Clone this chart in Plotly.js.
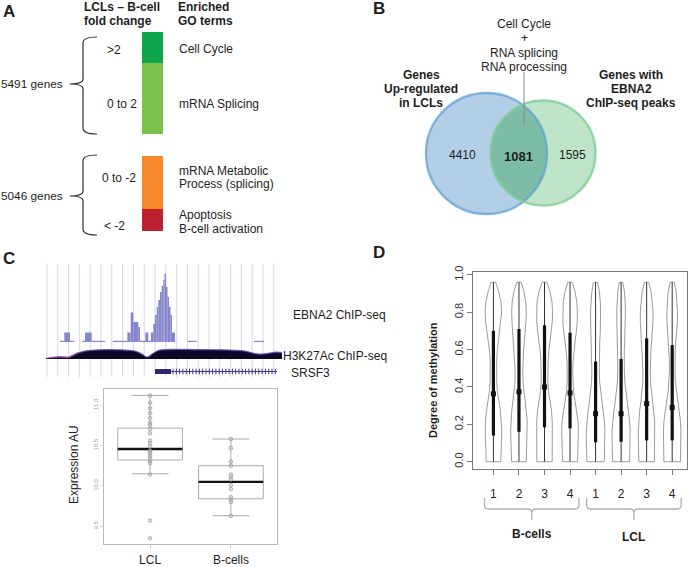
<!DOCTYPE html>
<html><head><meta charset="utf-8">
<script src="https://cdn.plot.ly/plotly-3.0.1.min.js"></script>
<style>html,body{margin:0;padding:0;background:#fff}#chart{width:694px;height:567px}</style>
</head><body><div id="chart"></div>
<script>
// ================= DATA =================
// Panel A : fold-change bins and enriched GO terms
const foldBins = ['>2', '0 to 2', '0 to -2', '< -2'];
const foldGroup = [0, 0, 1, 1];
const foldBinSize = [31, 71, 53, 22];           // relative bar lengths
const geneGroups = ['5491 genes', '5046 genes'];
const goTermLines = [['Cell Cycle'], ['mRNA Splicing'], ['mRNA Metabolic', 'Process (splicing)'], ['Apoptosis', 'B-cell activation']];

// Panel B : Venn
const vennSetA = ['Genes', 'Up-regulated', 'in LCLs'];
const vennSetB = ['Genes with', 'EBNA2', 'ChIP-seq peaks'];
const vennCounts = ['4410', '1081', '1595'];
const vennOverlapTerms = ['Cell Cycle', '+', 'RNA splicing', 'RNA processing'];

// Panel C : genome tracks (position in 100 bp bins)
const ebnaStart  = [14, 18.3, 24, 36.3, 39, 45.7, 66.7, 81.3, 84.7, 87.3, 89, 92.3, 94, 99.3, 102.3, 105, 107.3, 109, 110.7, 112.3, 114, 115.7, 117.3, 118.5, 120, 121.5, 123, 124.5, 126, 141.7, 208];
const ebnaEnd    = [18.3, 24, 28.3, 39, 45.7, 59, 81.3, 84.7, 87.3, 89, 92.3, 94, 99.3, 102.3, 105, 107.3, 109, 110.7, 112.3, 114, 115.7, 117.3, 118.5, 120, 121.5, 123, 124.5, 126, 129, 150.7, 218];
const ebnaSignal = [1.2, 9.5, 1.2, 1.2, 9.5, 1.2, 1.2, 9.5, 29.5, 20, 20, 15, 1.2, 9.5, 1.2, 9.5, 18, 27, 35, 42, 50, 56, 62, 68, 55, 45, 35, 27, 9.5, 1.2, 1.2];
const h3Pos    = [0, 4, 14, 22, 26, 32, 39, 49, 64, 79, 89, 96, 101, 106, 112, 119, 154, 184, 199, 209, 216, 224, 230, 236];
const h3Signal = [0, 1, 2, 1.5, 3, 6, 8, 9, 9.5, 9, 8, 5, 2, 5, 8.5, 9.5, 9.5, 9, 8, 5.5, 5, 6, 7, 6.5];
const geneName = 'SRSF3';
const geneStart = 109, geneExonEnd = 125, geneEnd = 231;

// Panel C : expression box plot
const boxGroups = ['LCL', 'B-cells'];
const boxQ1 = [10.32, 9.84];
const boxMedian = [10.457, 10.05];
const boxQ3 = [10.716, 10.25];
const boxLower = [10.15, 9.63];
const boxUpper = [11.12, 10.58];
const lclExpr = [11.12, 11.03, 10.96, 10.90, 10.84, 10.78, 10.75, 10.70, 10.65, 10.56, 10.53, 10.49, 10.44, 10.42, 10.40, 10.37, 10.34, 10.31, 10.28, 10.14, 9.57, 9.35];
const bcellExpr = [10.58, 10.47, 10.30, 10.25, 10.14, 10.11, 10.08, 10.01, 9.96, 9.86, 9.83, 9.80, 9.63];

// Panel D : methylation violins
const violinTicks = ['1', '2', '3', '4', '1', '2', '3', '4'];
const violinGroupNames = ['B-cells', 'LCL'];
const violinLevels = [0, 0.055, 0.11, 0.165, 0.215, 0.27, 0.325, 0.375, 0.43, 0.485, 0.535, 0.59, 0.645, 0.695, 0.75, 0.805, 0.855, 0.91, 0.96];
const violinDensity = [
  [7.3, 7.3, 8.0, 8.3, 8.0, 7.0, 5.5, 4.0, 3.3, 3.0, 3.2, 3.8, 5.0, 6.5, 7.8, 8.3, 7.5, 5.3, 2.3],
  [7.3, 7.5, 8.0, 8.3, 8.2, 7.3, 6.0, 4.7, 4.0, 3.8, 4.0, 4.5, 5.3, 6.3, 7.0, 7.3, 6.8, 5.0, 2.3],
  [7.7, 7.7, 7.8, 8.0, 7.8, 7.0, 5.5, 4.0, 3.3, 3.3, 3.6, 4.3, 5.5, 6.8, 7.8, 8.0, 7.5, 5.5, 2.3],
  [7.5, 7.8, 8.2, 8.3, 8.0, 6.8, 5.0, 3.5, 2.8, 2.7, 3.0, 3.8, 5.0, 6.3, 7.2, 7.3, 6.8, 5.0, 2.3],
  [8.7, 9.0, 9.3, 9.3, 8.8, 7.5, 6.0, 4.8, 4.0, 3.7, 3.7, 3.8, 4.2, 4.7, 5.0, 5.0, 4.7, 3.8, 2.0],
  [8.5, 8.8, 9.0, 9.0, 8.5, 7.3, 5.8, 4.5, 3.7, 3.2, 3.0, 3.2, 3.6, 4.0, 4.3, 4.3, 4.0, 3.3, 1.8],
  [7.8, 8.0, 8.3, 8.3, 8.0, 7.0, 5.7, 4.5, 3.8, 3.7, 3.8, 4.2, 5.0, 5.8, 6.3, 6.3, 5.8, 4.5, 2.0],
  [8.3, 8.5, 8.7, 8.7, 8.3, 7.0, 5.5, 4.0, 3.2, 2.8, 2.7, 3.0, 3.7, 4.5, 5.2, 5.3, 5.0, 4.0, 2.0]
];
const violinMin = [0, 0, 0, 0, 0, 0, 0, 0];
const violinMax = [0.96, 0.96, 0.96, 0.96, 0.96, 0.96, 0.96, 0.96];
const violinQ1 = [0.14, 0.16, 0.184, 0.178, 0.104, 0.107, 0.114, 0.114];
const violinMedian = [0.363, 0.374, 0.40, 0.368, 0.257, 0.257, 0.311, 0.29];
const violinQ3 = [0.70, 0.71, 0.73, 0.69, 0.536, 0.55, 0.66, 0.624];

// ================= LAYOUT HELPERS =================
const W = 694, H = 567;
const FONT = 'Liberation Sans, Arial, Helvetica, sans-serif';
const TXT = '#1e1e1e';
const X = p => p / W;
const Y = p => 1 - p / H;
const ann = [];
function txt(x, y, text, o = {}) {
  ann.push({xref: o.xref || 'paper', yref: 'paper', x: o.xref ? x : X(x), y: Y(y), text: text, showarrow: false,
    xanchor: o.xa || 'center', yanchor: 'middle', textangle: o.rot || 0, borderpad: 0,
    font: {family: FONT, size: o.s || 12, color: o.c || TXT}});
}
const shapes = [];
const traces = [];

// ---------- panel letters ----------
txt(9, 11, '<b>A</b>', {s: 17});
txt(379, 9, '<b>B</b>', {s: 17});
txt(9, 258, '<b>C</b>', {s: 17});
txt(379, 252, '<b>D</b>', {s: 17});

// ---------- Panel A ----------
const GROUP_GAP = 22;
const foldBinColors = ['#0fa64b', '#7dc24a', '#f5892b', '#bd2130'];
let bases = [], cum = 0;
for (let i = 0; i < foldBins.length; i++) {
  if (i > 0 && foldGroup[i] !== foldGroup[i - 1]) cum += GROUP_GAP;
  bases.push(cum); cum += foldBinSize[i];
}
traces.push({type: 'bar', x: foldBins.map(() => 0), y: foldBinSize, base: bases, width: 1,
  marker: {color: foldBinColors, line: {width: 0}}, xaxis: 'x', yaxis: 'y', hoverinfo: 'skip'});
txt(83, 7, '<b>LCLs – B-cell</b>', {xa: 'left'});
txt(83, 21, '<b>fold change</b>', {xa: 'left'});
txt(177, 7, '<b>Enriched</b>', {xa: 'left'});
txt(177, 21, '<b>GO terms</b>', {xa: 'left'});
const foldLabelPos = [[114, 50], [122, 104], [119, 178], [114.5, 226]];
foldBins.forEach((b, i) => txt(foldLabelPos[i][0], foldLabelPos[i][1], b));
const goY = [[49], [104], [171, 184], [215, 229]];
goTermLines.forEach((lines, i) => lines.forEach((l, j) => txt(178, goY[i][j], l, {xa: 'left'})));
txt(0, 84, geneGroups[0], {xa: 'left', s: 11.8});
txt(0, 196, geneGroups[1], {xa: 'left', s: 11.8});
function pathPx(cmds) {
  return cmds.map(c => {
    let s = c[0];
    for (let k = 1; k < c.length; k += 2) s += (k > 1 ? ' ' : '') + X(c[k]).toFixed(5) + ',' + Y(c[k + 1]).toFixed(5);
    return s;
  }).join(' ');
}
function brace(xr, xs, xt, y0, y1, yt) {
  return pathPx([['M', xr, y0], ['Q', xs, y0, xs, y0 + 6], ['L', xs, yt - 5], ['Q', xs, yt, xt, yt],
    ['Q', xs, yt, xs, yt + 5], ['L', xs, y1 - 6], ['Q', xs, y1, xr, y1]]);
}
shapes.push({type: 'path', xref: 'paper', yref: 'paper', path: brace(97, 83, 70, 37, 134, 84), line: {color: '#333', width: 1.2}});
shapes.push({type: 'path', xref: 'paper', yref: 'paper', path: brace(97, 83, 70, 155, 235, 196), line: {color: '#333', width: 1.2}});

// ---------- Panel B (Venn) ----------
const cA = {x: 486.5, y: 153.5, r: 60.5}, cB = {x: 543, y: 153, r: 52.5};
function circ(c, fill, line) {
  return {type: 'circle', xref: 'paper', yref: 'paper', x0: X(c.x - c.r), x1: X(c.x + c.r), y0: Y(c.y + c.r), y1: Y(c.y - c.r),
    fillcolor: fill, line: line};
}
shapes.push(circ(cA, '#b3cee7', {width: 0}));
shapes.push(circ(cB, '#bfe4c7', {width: 0}));
(function lens() {
  const dx = cB.x - cA.x, dy = cB.y - cA.y, d = Math.hypot(dx, dy), phi = Math.atan2(dy, dx);
  const tA = Math.acos((d * d + cA.r * cA.r - cB.r * cB.r) / (2 * d * cA.r));
  const tB = Math.acos((d * d + cB.r * cB.r - cA.r * cA.r) / (2 * d * cB.r));
  const pts = [];
  for (let k = 0; k <= 40; k++) { const a = phi - tA + 2 * tA * k / 40; pts.push([cA.x + cA.r * Math.cos(a), cA.y + cA.r * Math.sin(a)]); }
  for (let k = 0; k <= 40; k++) { const a = phi + Math.PI - tB + 2 * tB * k / 40; pts.push([cB.x + cB.r * Math.cos(a), cB.y + cB.r * Math.sin(a)]); }
  const path = pts.map((p, i) => (i ? 'L' : 'M') + X(p[0]).toFixed(5) + ',' + Y(p[1]).toFixed(5)).join(' ') + ' Z';
  shapes.push({type: 'path', xref: 'paper', yref: 'paper', path: path, fillcolor: '#7dbda8', line: {width: 0}});
})();
shapes.push(circ(cA, 'rgba(0,0,0,0)', {color: 'rgba(95,160,212,0.75)', width: 2.4}));
shapes.push(circ(cB, 'rgba(0,0,0,0)', {color: 'rgba(125,205,148,0.8)', width: 2.4}));
shapes.push({type: 'line', xref: 'paper', yref: 'paper', x0: X(524), x1: X(524), y0: Y(72), y1: Y(125), line: {color: '#8a8a8a', width: 1}});
vennOverlapTerms.forEach((t, i) => txt(524, 24 + i * 14.3, t));
vennSetA.forEach((t, i) => txt(421, 75 + i * 14, '<b>' + t + '</b>'));
vennSetB.forEach((t, i) => txt(631, 75 + i * 14, '<b>' + t + '</b>'));
txt(462, 155, vennCounts[0]);
txt(518, 156, '<b>' + vennCounts[1] + '</b>', {s: 13});
txt(572, 155, vennCounts[2]);

// ---------- Panel C : tracks ----------
for (let i = 0; i < 22; i++) {
  const gx = 1 + i * 10.8;
  shapes.push({type: 'line', layer: 'below', xref: 'x2', yref: 'paper', x0: gx, x1: gx, y0: Y(377), y1: Y(264), line: {color: '#d6d6ef', width: 1}});
}
traces.push({type: 'bar', x: ebnaStart.map((s, i) => (s + ebnaEnd[i]) / 2), width: ebnaStart.map((s, i) => ebnaEnd[i] - s),
  y: ebnaSignal, marker: {color: '#8686cc', line: {width: 0}}, xaxis: 'x2', yaxis: 'y2', hoverinfo: 'skip'});
const redIdx = h3Pos.map((p, i) => i).filter(i => h3Pos[i] <= 32);
traces.push({type: 'scatter', mode: 'lines', x: redIdx.map(i => h3Pos[i]), y: redIdx.map(i => h3Signal[i] + 0.6), fill: 'tozeroy',
  fillcolor: '#e0607c', line: {color: '#e0607c', width: 0.8}, xaxis: 'x2', yaxis: 'y3', hoverinfo: 'skip'});
traces.push({type: 'scatter', mode: 'lines', x: h3Pos, y: h3Signal, fill: 'tozeroy', fillcolor: '#5a46b0',
  line: {color: '#6f58c0', width: 1, shape: 'spline'}, xaxis: 'x2', yaxis: 'y3', hoverinfo: 'skip'});
traces.push({type: 'scatter', mode: 'lines', x: h3Pos, y: h3Signal.map(v => Math.max(0, v - 0.9)), fill: 'tozeroy', fillcolor: '#0d0826',
  line: {color: '#0d0826', width: 0.5, shape: 'spline'}, xaxis: 'x2', yaxis: 'y3', hoverinfo: 'skip'});
shapes.push({type: 'line', xref: 'x2', yref: 'y3', x0: h3Pos[0], x1: h3Pos[h3Pos.length - 1], y0: 0, y1: 0, line: {color: '#111', width: 1.2}});
// gene model
shapes.push({type: 'rect', xref: 'x2', yref: 'y4', x0: geneStart, x1: geneExonEnd, y0: -0.45, y1: 0.45, fillcolor: '#2b2870', line: {width: 0}});
traces.push({type: 'scatter', mode: 'lines', x: [geneExonEnd, geneEnd], y: [0, 0], line: {color: '#3a3a86', width: 1}, xaxis: 'x2', yaxis: 'y4', hoverinfo: 'skip'});
const arrowX = []; for (let p = geneExonEnd + 2; p < geneEnd; p += 3.3) arrowX.push(p);
traces.push({type: 'scatter', mode: 'markers', x: arrowX, y: arrowX.map(() => 0),
  marker: {symbol: 'line-ns-open', size: 4, color: '#3c3c8c', line: {color: '#3c3c8c', width: 1}},
  xaxis: 'x2', yaxis: 'y4', hoverinfo: 'skip'});
txt(292, 315, 'EBNA2 ChIP-seq', {xa: 'left'});
txt(282, 356, 'H3K27Ac ChIP-seq', {xa: 'left'});
txt(290, 373, geneName, {xa: 'left'});

// ---------- Panel C : box plot ----------
const BOXW = 0.8;
traces.push({type: 'box', orientation: 'v', x: [0, 1], q1: boxQ1, median: boxMedian, q3: boxQ3, lowerfence: boxLower, upperfence: boxUpper,
  width: BOXW, whiskerwidth: 0.57, boxpoints: false, line: {color: '#ababab', width: 1}, fillcolor: 'rgba(255,255,255,0)',
  xaxis: 'x3', yaxis: 'y5', hoverinfo: 'skip'});
traces.push({type: 'scatter', mode: 'lines', x: [-BOXW / 2, BOXW / 2, null, 1 - BOXW / 2, 1 + BOXW / 2],
  y: [boxMedian[0], boxMedian[0], null, boxMedian[1], boxMedian[1]], line: {color: '#111', width: 2.4}, xaxis: 'x3', yaxis: 'y5', hoverinfo: 'skip'});
traces.push({type: 'scatter', mode: 'markers', x: lclExpr.map(() => 0).concat(bcellExpr.map(() => 1)), y: lclExpr.concat(bcellExpr),
  marker: {symbol: 'circle', size: 3.6, color: 'rgba(185,185,185,0.45)', line: {color: '#9a9a9a', width: 0.7}}, xaxis: 'x3', yaxis: 'y5', hoverinfo: 'skip'});
txt(74, 465, 'Expression AU', {rot: -90});

// ---------- Panel D : violins ----------
const WSCALE = 1 / 25.5;
violinDensity.forEach((dens, i) => {
  const pos = i + 1;
  const xs = [], ys = [];
  violinLevels.forEach((lv, k) => { xs.push(pos + dens[k] * WSCALE); ys.push(lv); });
  for (let k = violinLevels.length - 1; k >= 0; k--) { xs.push(pos - dens[k] * WSCALE); ys.push(violinLevels[k]); }
  xs.push(xs[0]); ys.push(ys[0]);
  traces.push({type: 'scatter', mode: 'lines', x: xs, y: ys, fill: 'toself', fillcolor: '#ffffff', line: {color: '#9c9c9c', width: 1},
    xaxis: 'x4', yaxis: 'y6', hoverinfo: 'skip'});
});
const vx = [], vy = [], bx = [], by = [];
violinDensity.forEach((d, i) => {
  vx.push(i + 1, i + 1, null); vy.push(violinMin[i], violinMax[i], null);
  bx.push(i + 1, i + 1, null); by.push(violinQ1[i], violinQ3[i], null);
});
traces.push({type: 'scatter', mode: 'lines', x: vx, y: vy, line: {color: '#333', width: 1}, xaxis: 'x4', yaxis: 'y6', hoverinfo: 'skip'});
traces.push({type: 'scatter', mode: 'lines', x: bx, y: by, line: {color: '#111', width: 3.2}, xaxis: 'x4', yaxis: 'y6', hoverinfo: 'skip'});
traces.push({type: 'scatter', mode: 'markers', x: violinMedian.map((m, i) => i + 1), y: violinMedian,
  marker: {symbol: 'square', size: 5, color: '#111'}, xaxis: 'x4', yaxis: 'y6', hoverinfo: 'skip'});
txt(433, 380, '<b>Degree of methylation</b>', {rot: -90, s: 11});
function bracket(a, b, c) {
  const yt = 498, yh = 509, yb = 520;
  const s = v => Y(v).toFixed(5);
  return `M${a},${s(yt)} L${a},${s(yh - 4)} Q${a},${s(yh)} ${a + 0.15},${s(yh)} L${c - 0.15},${s(yh)} Q${c},${s(yh)} ${c},${s(yh + 4)} L${c},${s(yb)} ` +
         `M${c},${s(yh + 4)} Q${c},${s(yh)} ${c + 0.15},${s(yh)} L${b - 0.15},${s(yh)} Q${b},${s(yh)} ${b},${s(yh - 4)} L${b},${s(yt)}`;
}
[[1, 4], [5, 8]].forEach((g, i) => {
  const a = g[0] - 0.35, b = g[1] + 0.35, c = (g[0] + g[1]) / 2;
  shapes.push({type: 'path', xref: 'x4', yref: 'paper', path: bracket(a, b, c), line: {color: '#b0b0b0', width: 1.3}});
  txt(c, i === 0 ? 534 : 537, '<b>' + violinGroupNames[i] + '</b>', {xref: 'x4'});
});

// ================= LAYOUT =================
const hidden = {visible: false, fixedrange: true};
const layout = {
  width: W, height: H, autosize: false, margin: {l: 0, r: 0, t: 0, b: 0},
  paper_bgcolor: '#ffffff', plot_bgcolor: 'rgba(0,0,0,0)', showlegend: false, barmode: 'overlay',
  font: {family: FONT, color: TXT},
  xaxis: Object.assign({domain: [X(142), X(163)], range: [-0.5, 0.5], anchor: 'y'}, hidden),
  yaxis: Object.assign({domain: [Y(231), Y(32)], range: [cum, 0], anchor: 'x'}, hidden),
  xaxis2: Object.assign({domain: [X(46), X(282)], range: [0, 236], anchor: 'y2'}, hidden),
  yaxis2: Object.assign({domain: [Y(342), Y(268)], range: [0, 74], anchor: 'x2'}, hidden),
  yaxis3: Object.assign({domain: [Y(359), Y(347)], range: [0, 12], anchor: 'x2'}, hidden),
  yaxis4: Object.assign({domain: [Y(377), Y(366)], range: [-1, 1], anchor: 'x2'}, hidden),
  xaxis3: {domain: [X(104), X(277)], range: [-0.57, 1.57], anchor: 'y5', showline: true, mirror: true, linecolor: '#b8b8b8', linewidth: 1,
    showgrid: false, zeroline: false, ticks: 'outside', ticklen: 4, tickcolor: '#cfcfcf', tickvals: [0, 1], ticktext: boxGroups,
    tickfont: {family: FONT, size: 12, color: TXT}, ticklabelstandoff: 1, fixedrange: true},
  yaxis5: {domain: [Y(544), Y(389)], range: [9.28, 11.2], anchor: 'x3', showline: true, mirror: true, linecolor: '#b8b8b8', linewidth: 1,
    showgrid: false, zeroline: false, ticks: 'outside', ticklen: 3, tickcolor: '#dddddd', tickvals: [9.5, 10, 10.5, 11],
    ticktext: ['9.5', '10.0', '10.5', '11.0'], tickangle: -90, tickfont: {family: FONT, size: 6, color: '#9a9a9a'}, fixedrange: true},
  xaxis4: {domain: [X(473), X(687)], range: [0.2, 8.58], anchor: 'y6', showline: true, mirror: true, linecolor: '#7a7a7a', linewidth: 1,
    showgrid: false, zeroline: false, ticks: 'outside', ticklen: 5, tickcolor: '#7a7a7a', tickvals: [1, 2, 3, 4, 5, 6, 7, 8], ticktext: violinTicks,
    tickfont: {family: FONT, size: 12, color: '#222'}, ticklabelstandoff: 9, fixedrange: true},
  yaxis6: {domain: [Y(469), Y(272)], range: [-0.039, 1.015], anchor: 'x4', showline: true, mirror: true, linecolor: '#7a7a7a', linewidth: 1,
    showgrid: false, zeroline: false, ticks: 'outside', ticklen: 5, tickcolor: '#7a7a7a', tickvals: [0, 0.2, 0.4, 0.6, 0.8, 1.0],
    ticktext: ['0.0', '0.2', '0.4', '0.6', '0.8', '1.0'], tickangle: -90, tickfont: {family: FONT, size: 11, color: '#333'}, fixedrange: true},
  annotations: ann, shapes: shapes
};
Plotly.newPlot('chart', traces, layout, {displayModeBar: false, staticPlot: true});
</script></body></html>
